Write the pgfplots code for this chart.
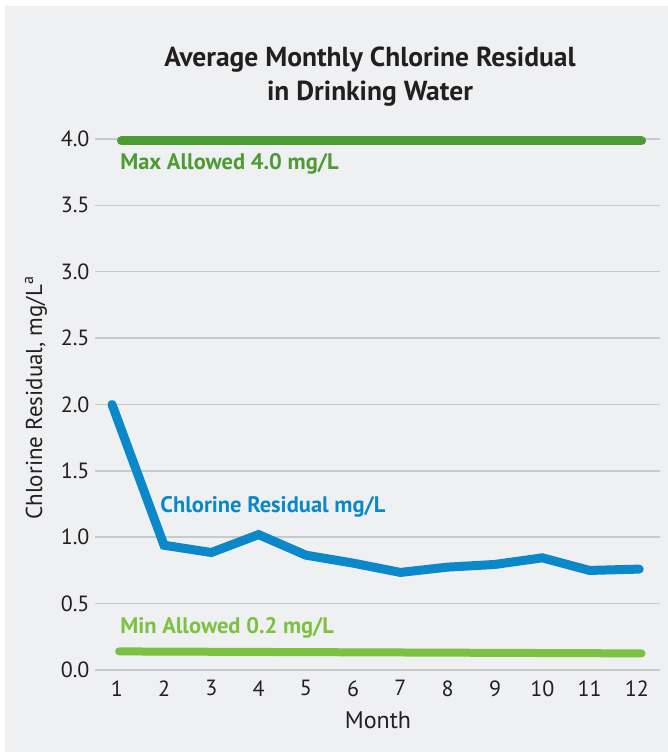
\documentclass[border=0pt]{standalone}
\usepackage{pgfplots}
\pgfplotsset{compat=1.18}
\usepackage{fontspec}
\setmainfont{PT Sans}
\definecolor{panel}{HTML}{EFF0F2}
\definecolor{gridc}{HTML}{C8C9CB}
\definecolor{txt}{HTML}{231F20}
\definecolor{blueline}{HTML}{0A88C9}
\definecolor{maxgreen}{HTML}{4E9A34}
\definecolor{mingreen}{HTML}{7DC142}
\begin{document}
\begin{tikzpicture}[x=1pt,y=1pt]
% panel
\fill[white] (0,0) rectangle (668,752);
\fill[panel] (5,0) rectangle (668,746);

\begin{axis}[
    at={(95pt,82pt)}, anchor=south west,
    scale only axis,
    width=565pt, height=531pt,
    xmin=0.54, xmax=12.49,
    ymin=0, ymax=4,
    clip=false,
    axis line style={draw=none},
    major tick length=0pt,
    tick style={draw=none},
    ymajorgrids,
    grid style={gridc, line width=1.5pt},
    xtick={1,2,...,12},
    ytick={0,0.5,1,1.5,2,2.5,3,3.5,4},
    y tick label style={/pgf/number format/fixed, /pgf/number format/fixed zerofill, /pgf/number format/precision=1},
    /pgf/number format/assume math mode=true,
    ticklabel style={font=\fontsize{22}{24}\selectfont, text=txt},
    xticklabel style={yshift=-7pt},
    yticklabel style={xshift=-2pt},
]
% maximum allowed
\addplot[maxgreen, line width=9pt, line cap=round] coordinates {(1.1,3.985) (12.1,3.985)};
% minimum allowed
\addplot[mingreen, line width=8pt, line cap=round] coordinates {(1.05,0.14) (12.1,0.125)};
% monthly chlorine residual
\addplot[blueline, line width=9pt, line join=miter, line cap=round] coordinates {
    (0.9,2.0) (2,0.94) (3,0.885) (4,1.02) (5,0.865) (6,0.805)
    (7,0.735) (8,0.775) (9,0.795) (10,0.845) (11,0.75) (12.05,0.76)
};

\node[anchor=west, text=maxgreen, font=\bfseries\fontsize{22.5}{24}\selectfont] at (axis cs:1.0,3.81) {Max Allowed 4.0 mg/L};
\node[anchor=west, text=blueline, font=\bfseries\fontsize{22.5}{24}\selectfont] at (axis cs:1.85,1.23) {Chlorine Residual mg/L};
\node[anchor=west, text=mingreen, font=\bfseries\fontsize{22.5}{24}\selectfont] at (axis cs:1.0,0.32) {Min Allowed 0.2 mg/L};
\end{axis}

% title and labels
\node[align=center, text=txt, font=\bfseries\fontsize{27.5}{34}\selectfont] at (370,675) {Average Monthly Chlorine Residual\\in Drinking Water};
\node[rotate=90, text=txt, font=\fontsize{23}{24}\selectfont] at (36,354) {Chlorine Residual, mg/L\textsuperscript{a}};
\node[text=txt, font=\fontsize{24}{26}\selectfont] at (378,32) {Month};
\end{tikzpicture}
\end{document}
